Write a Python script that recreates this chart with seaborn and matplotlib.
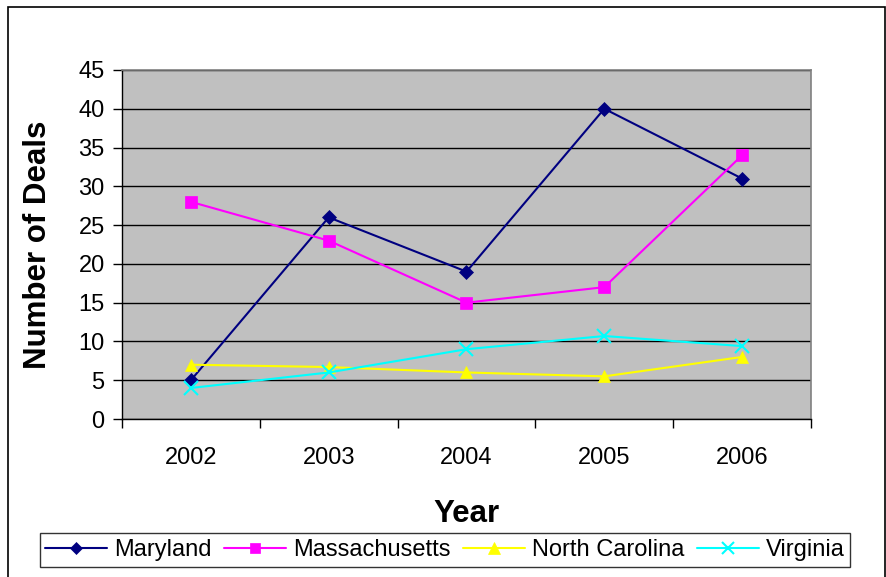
import matplotlib
matplotlib.use("Agg")
import matplotlib.pyplot as plt
import seaborn as sns
import pandas as pd
from matplotlib.patches import Rectangle

years = ["2002", "2003", "2004", "2005", "2006"]
maryland = [5, 26, 19, 40, 31]
massachusetts = [28, 23, 15, 17, 34]
north_carolina = [7, 6.7, 6, 5.5, 8]
virginia = [4, 6, 9, 10.7, 9.4]

series = {
    "Maryland": maryland,
    "Massachusetts": massachusetts,
    "North Carolina": north_carolina,
    "Virginia": virginia,
}
colors = {"Maryland": "#000080", "Massachusetts": "#FF00FF",
          "North Carolina": "#FFFF00", "Virginia": "#00FFFF"}
markers = {"Maryland": "D", "Massachusetts": "s",
           "North Carolina": "^", "Virginia": "x"}
msizes = {"Maryland": 7, "Massachusetts": 8, "North Carolina": 9, "Virginia": 10}

rows = []
for name, vals in series.items():
    for i, v in enumerate(vals):
        rows.append({"pos": i, "Year": years[i], "Deals": v, "State": name})
df = pd.DataFrame(rows)

sns.set_theme(style="white")
plt.rcParams["font.family"] = ["Liberation Sans", "DejaVu Sans"]
plt.rcParams["text.color"] = "black"
plt.rcParams["axes.labelcolor"] = "black"
plt.rcParams["xtick.color"] = "black"
plt.rcParams["ytick.color"] = "black"

fig = plt.figure(figsize=(8.87, 5.77), dpi=100)
W, H = 887, 577
ax = fig.add_axes([122 / W, 1 - 419 / H, (811 - 122) / W, (419 - 70) / H])
ax.set_facecolor("#C0C0C0")

for name in series:
    sub = df[df["State"] == name]
    sns.lineplot(data=sub, x="pos", y="Deals", ax=ax, color=colors[name],
                 marker=markers[name], markersize=msizes[name],
                 markeredgecolor=colors[name], markeredgewidth=1.5 if name == "Virginia" else 0.5,
                 linewidth=1.5, label=name, legend=False)

ax.set_xlim(-0.5, 4.5)
ax.set_ylim(0, 45)
ax.set_yticks(range(0, 46, 5))
ax.set_xticks(range(len(years)))
ax.set_xticklabels(years)
ax.set_xticks([i + 0.5 for i in range(-1, 5)], minor=True)
ax.tick_params(axis="x", which="major", length=0, pad=20, labelsize=17)
ax.tick_params(axis="x", which="minor", length=6.5, width=1, direction="out", color="black", bottom=True)
ax.tick_params(axis="y", length=6.5, width=1, direction="out", left=True, labelsize=17, pad=6)
ax.yaxis.grid(True, color="black", linewidth=1)
ax.xaxis.grid(False)
ax.set_axisbelow(True)
for s in ["top", "right"]:
    ax.spines[s].set_color("#808080")
    ax.spines[s].set_linewidth(1.2)
for s in ["left", "bottom"]:
    ax.spines[s].set_color("black")
    ax.spines[s].set_linewidth(1)

ax.set_xlabel("Year", fontsize=22.5, fontweight="bold", labelpad=22)
ax.set_ylabel("Number of Deals", fontsize=22.5, fontweight="bold", labelpad=18)

handles, labels = ax.get_legend_handles_labels()
leg = fig.legend(handles, labels, loc="center", bbox_to_anchor=(445 / W, 1 - 550 / H),
                 ncol=4, fontsize=17, frameon=True, fancybox=False, edgecolor="black",
                 handlelength=2.6, columnspacing=0.55, handletextpad=0.3,
                 borderpad=0.25, markerscale=0.9)
leg.get_frame().set_linewidth(1)

fig.patches.append(Rectangle((8 / W, -0.01), (885 - 8) / W, 1 - 7 / H + 0.01,
                             transform=fig.transFigure, fill=False,
                             edgecolor="black", linewidth=1.2))

fig.savefig("out.png", dpi=100, facecolor="white")
